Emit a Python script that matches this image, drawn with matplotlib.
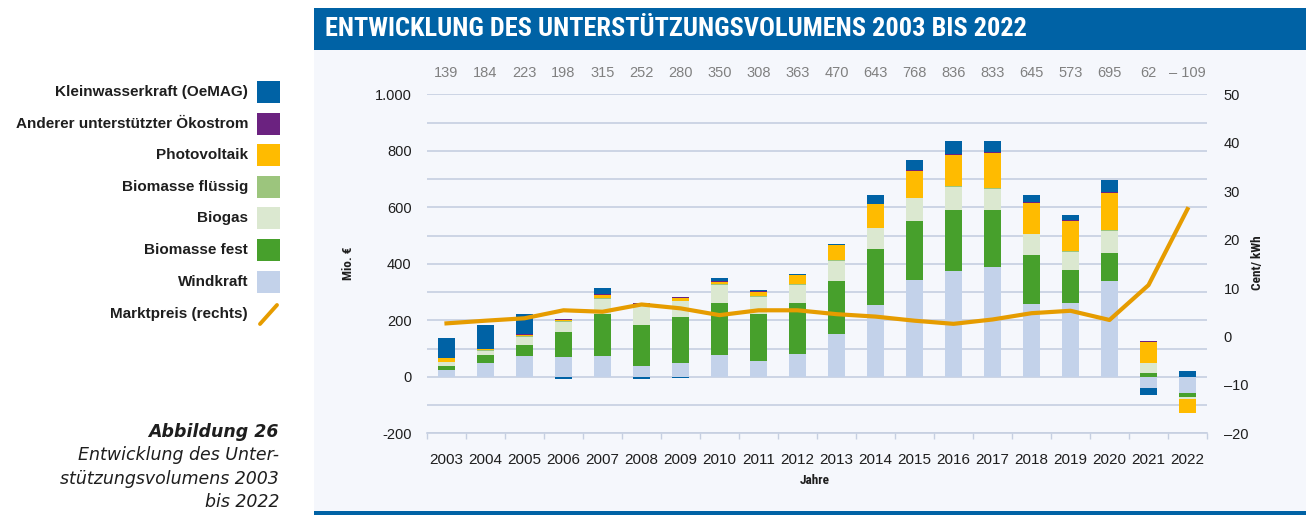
import matplotlib
matplotlib.use("Agg")
import matplotlib.pyplot as plt
import numpy as np
from matplotlib.patches import Rectangle
from matplotlib.lines import Line2D
import matplotlib.transforms as mtransforms
from matplotlib.ticker import FixedLocator, MultipleLocator, FuncFormatter
from matplotlib import font_manager as fm

# ---------------- data ----------------
years = list(range(2003, 2023))
totals = [139, 184, 223, 198, 315, 252, 280, 350, 308, 363, 470, 643, 768, 836, 833, 645, 573, 695, 62, -109]
windkraft = [25, 49, 73, 70, 72, 40, 50, 76, 56, 82, 151, 255, 341, 376, 389, 258, 263, 338, -40, -59]
biomasse_fest = [15, 28, 40, 88, 152, 142, 160, 187, 168, 178, 189, 199, 210, 213, 200, 172, 114, 101, 15, -12]
biogas = [12, 16, 28, 35, 52, 70, 58, 62, 60, 65, 70, 72, 81, 84, 76, 74, 65, 78, 33, -6]
biomasse_fluessig = [2, 2, 3, 3, 4, 2, 2, 2, 2, 2, 3, 2, 2, 2, 2, 2, 2, 2, 1, 0]
photovoltaik = [11, 3, 5, 4, 9, 3, 8, 10, 15, 32, 53, 82, 95, 110, 125, 110, 109, 133, 73, -51]
anderer = [2, 2, 2, 5, 4, 3, 5, 2, 1, 1, 2, 1, 2, 2, 2, 1, 1, 3, 6, 0]
kleinwasserkraft = [72, 84, 72, -7, 22, -8, -3, 11, 6, 3, 2, 32, 37, 49, 39, 28, 19, 40, -26, 19]
marktpreis = [2.7, 3.25, 3.75, 5.4, 5.1, 6.6, 5.8, 4.4, 5.4, 5.4, 4.6, 4.1, 3.25, 2.6, 3.5, 4.8, 5.3, 3.4, 10.6, 26.3]

legend_labels = ["Kleinwasserkraft (OeMAG)", "Anderer unterstützter Ökostrom", "Photovoltaik",
                 "Biomasse flüssig", "Biogas", "Biomasse fest", "Windkraft", "Marktpreis (rechts)"]
title = "ENTWICKLUNG DES UNTERSTÜTZUNGSVOLUMENS 2003 BIS 2022"
caption_bold = "Abbildung 26"
caption_lines = ["Entwicklung des Unter-", "stützungsvolumens 2003", "bis 2022"]

# ---------------- style ----------------
C_KW = "#0062a5"
C_AND = "#6b2280"
C_PV = "#ffbb00"
C_FL = "#9cc57d"
C_BG_GAS = "#dbe8d0"
C_FEST = "#47a02c"
C_WIND = "#c3d2ea"
C_LINE = "#e69c00"
BLUE = "#0062a5"
PANEL = "#f5f7fc"
GRID = "#c6cfe1"
TXT = "#1e1e1e"

plt.rcParams['font.family'] = ['Liberation Sans', 'DejaVu Sans']

# condensed face if one is installed
cond_names = sorted({f.name for f in fm.fontManager.ttflist
                     if ('Condensed' in f.name or 'Narrow' in f.name or f.stretch in ('condensed', 'semi-condensed', 'extra-condensed'))})
COND = ['DejaVu Sans', 'Liberation Sans']
for cand in ['Liberation Sans Narrow', 'Roboto Condensed', 'Open Sans Condensed', 'DejaVu Sans Condensed']:
    if cand in cond_names:
        COND = [cand, 'DejaVu Sans']
        break

W, H = 1306, 515
fig = plt.figure(figsize=(W / 100, H / 100), dpi=100)
fig.patch.set_facecolor("white")


def fx(px):
    return px / W


def fy(py):
    return 1 - py / H


# panel background, title bar, bottom rule
fig.patches.append(Rectangle((fx(314), fy(511)), 1 - fx(314), fy(50) - fy(511),
                             transform=fig.transFigure, facecolor=PANEL, edgecolor="none", zorder=-5))
fig.patches.append(Rectangle((fx(314), fy(50)), 1 - fx(314), fy(8) - fy(50),
                             transform=fig.transFigure, facecolor=BLUE, edgecolor="none", zorder=-4))
fig.patches.append(Rectangle((fx(314), 0), 1 - fx(314), fy(511),
                             transform=fig.transFigure, facecolor=BLUE, edgecolor="none", zorder=-4))

t = fig.text(fx(325), fy(29), title, color="white", fontsize=17, fontweight="bold",
             family=COND, fontstretch="condensed", ha="left", va="center")
fig.canvas.draw()
r = fig.canvas.get_renderer()
wpx = t.get_window_extent(r).width
t.set_fontsize(17 * 705 / wpx)

# ---------------- main axes ----------------
ax = fig.add_axes([fx(427), fy(433.3), fx(1207) - fx(427), fy(94.3) - fy(433.3)])
ax.set_facecolor("none")
n = len(years)
x = np.arange(n)

series = [windkraft, biomasse_fest, biogas, biomasse_fluessig, photovoltaik, anderer, kleinwasserkraft]
colors = [C_WIND, C_FEST, C_BG_GAS, C_FL, C_PV, C_AND, C_KW]
pos_b = np.zeros(n)
neg_b = np.zeros(n)
for vals, col in zip(series, colors):
    v = np.array(vals, dtype=float)
    bottom = np.where(v >= 0, pos_b, neg_b)
    ax.bar(x, v, 0.43, bottom=bottom, color=col, edgecolor="none", zorder=2)
    pos_b += np.clip(v, 0, None)
    neg_b += np.clip(v, None, 0)

ax.set_xlim(-0.5, n - 0.5)
ax.set_ylim(-200, 1000)
ax.yaxis.set_major_locator(MultipleLocator(200))
ax.yaxis.set_minor_locator(MultipleLocator(100))
ax.yaxis.set_major_formatter(FuncFormatter(lambda v, p: f"{int(round(v)):,}".replace(",", ".")))
ax.grid(axis="y", which="both", color=GRID, lw=1.2, zorder=0)
ax.set_axisbelow(True)
ax.tick_params(axis="y", which="both", length=0, pad=11, labelsize=10.5, labelcolor=TXT)

ax.set_xticks(x)
ax.set_xticklabels([str(y) for y in years])
ax.xaxis.set_minor_locator(FixedLocator(np.arange(-0.5, n, 1.0)))
ax.tick_params(axis="x", which="major", length=0, pad=14, labelsize=11, labelcolor=TXT)
ax.tick_params(axis="x", which="minor", length=4.5, width=1.0, color=GRID)
for s in ["top", "left", "right"]:
    ax.spines[s].set_visible(False)
ax.spines["bottom"].set_color(GRID)
ax.spines["bottom"].set_linewidth(1.2)

# totals above
tr = mtransforms.blended_transform_factory(ax.transData, ax.transAxes)
for xi, tot in zip(x, totals):
    lab = f"{tot}" if tot >= 0 else f"\u2013 {abs(tot)}"
    ax.text(xi, 1.064, lab, transform=tr, ha="center", va="center", color="#808080", fontsize=10.5)

# secondary axis: market price
ax2 = ax.twinx()
ax2.set_ylim(-20, 50)
ax2.yaxis.set_major_locator(MultipleLocator(10))
ax2.yaxis.set_major_formatter(FuncFormatter(lambda v, p: f"{int(round(v))}" if v >= 0 else f"\u2013{abs(int(round(v)))}"))
ax2.tick_params(axis="y", length=0, pad=12, labelsize=10.5, labelcolor=TXT)
for s in ax2.spines.values():
    s.set_visible(False)
ax2.plot(x, marktpreis, color=C_LINE, lw=3.0, zorder=3, solid_joinstyle="round")

# axis titles
fig.text(fx(349), fy(263), "Mio. €", rotation=90, ha="center", va="center", fontsize=9.5,
         color=TXT, family=COND, fontstretch="condensed", fontweight="bold")
fig.text(fx(1257), fy(263), "Cent/ kWh", rotation=90, ha="center", va="center", fontsize=9.5,
         color=TXT, family=COND, fontstretch="condensed", fontweight="bold")
fig.text(fx(815), fy(481), "Jahre", ha="center", va="center", fontsize=9.5, color=TXT,
         family=COND, fontstretch="condensed", fontweight="bold")

# ---------------- legend (left) ----------------
leg_colors = [C_KW, C_AND, C_PV, C_FL, C_BG_GAS, C_FEST, C_WIND]
row_y = [92.3, 123.5, 155, 186.7, 218.3, 250, 281.7, 314]
for lab, yy in zip(legend_labels, row_y):
    fig.text(fx(248), fy(yy), lab, ha="right", va="center", fontsize=11, color=TXT,
             family=['Liberation Sans', 'DejaVu Sans'], fontweight="bold")
for col, yy in zip(leg_colors, row_y[:7]):
    fig.patches.append(Rectangle((fx(257), fy(yy + 11)), fx(23), 22 / H,
                                 transform=fig.transFigure, facecolor=col, edgecolor="none"))
fig.lines.append(Line2D([fx(260), fx(277)], [fy(324), fy(305)], transform=fig.transFigure,
                        color=C_LINE, lw=2.8, solid_capstyle="round"))

# ---------------- caption ----------------
fig.text(fx(279), fy(432), caption_bold, ha="right", va="center", fontsize=12.5,
         fontweight="bold", fontstyle="italic", color=TXT, family=['DejaVu Sans'])
for i, line in enumerate(caption_lines):
    fig.text(fx(279), fy(455 + i * 23.5), line, ha="right", va="center", fontsize=12.5,
             fontstyle="italic", color=TXT, family=['DejaVu Sans'])

fig.savefig("out.png", dpi=100, facecolor=fig.get_facecolor())
